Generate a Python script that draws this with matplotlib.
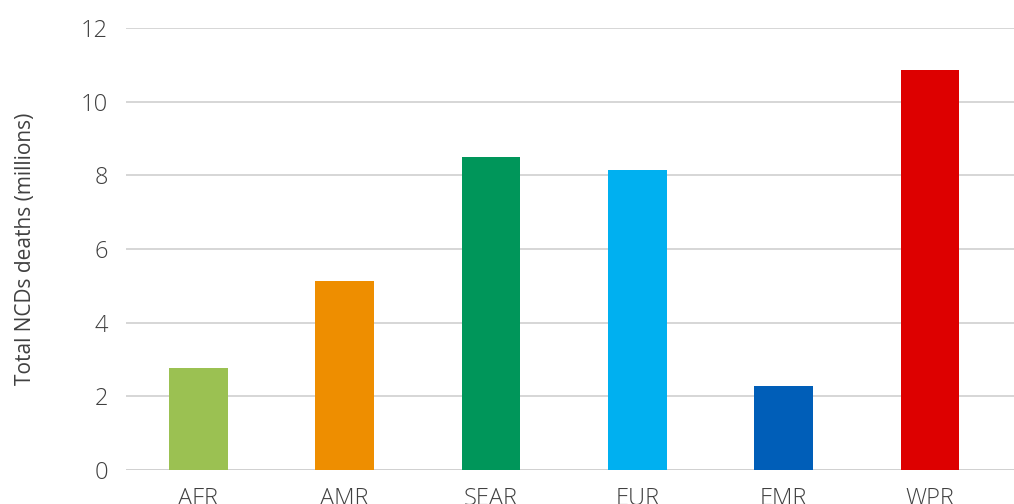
import matplotlib
matplotlib.use('Agg')
import matplotlib.pyplot as plt

# regions and total NCD deaths (millions)
regions = ['AFR', 'AMR', 'SEAR', 'EUR', 'EMR', 'WPR']
deaths = [2.77, 5.13, 8.50, 8.15, 2.28, 10.86]
colors = ['#9BC152', '#EE8E00', '#00965A', '#00B0F0', '#005EB8', '#DD0000']
yticks = [0, 2, 4, 6, 8, 10, 12]

TEXT = '#404040'
GRID = '#D0D0D0'

plt.rcParams['font.family'] = ['Open Sans', 'DejaVu Sans']
plt.rcParams['font.weight'] = 'light'

fig = plt.figure(figsize=(10.14, 5.04), dpi=100)
ax = fig.add_axes([0.1243, 0.0675, 0.8757, 0.877])

x = list(range(len(regions)))
ax.bar(x, deaths, width=0.4, color=colors, zorder=3)

# grid runs a bit past the last category
ax.set_xlim(-0.495, len(regions) - 0.425)
ax.set_ylim(0, 12)
ax.set_yticks(yticks)
ax.set_xticks(x)
ax.set_xticklabels(regions)

ax.grid(axis='y', color=GRID, linewidth=1.2, zorder=0)
for s in ax.spines.values():
    s.set_visible(False)
ax.axhline(0, color=GRID, linewidth=1.2, zorder=2)

ax.tick_params(axis='y', length=0, pad=13, labelsize=17, labelcolor=TEXT)
ax.tick_params(axis='x', length=0, pad=12, labelsize=17, labelcolor=TEXT)
ax.set_ylabel('Total NCDs deaths (millions)', fontsize=15, color=TEXT, labelpad=32)

fig.savefig('out.png', dpi=100)
